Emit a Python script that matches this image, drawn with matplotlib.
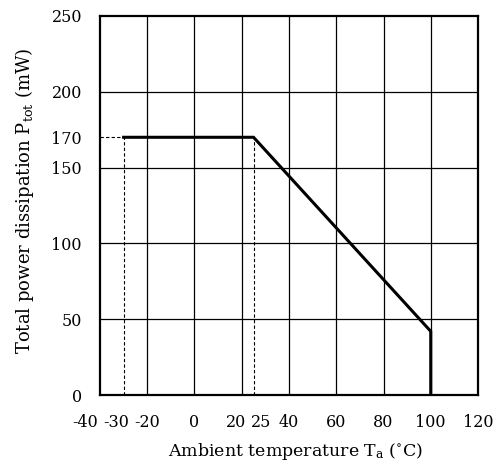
import matplotlib
matplotlib.use("Agg")
import matplotlib.pyplot as plt
import matplotlib.transforms as mtransforms

plt.rcParams['font.family'] = ['DejaVu Serif']
plt.rcParams['mathtext.fontset'] = 'custom'
plt.rcParams['mathtext.rm'] = 'DejaVu Serif'
plt.rcParams['mathtext.it'] = 'DejaVu Serif:italic'

# Data
temp = [-30, 25, 100, 100]
power = [170, 170, 42, 0]

x_ticks = [-40, -30, -20, 0, 20, 25, 40, 60, 80, 100, 120]
x_labels = ['-40', '-30', '-20', '0', '20', '25', '40', '60', '80', '100', '120']
y_ticks = [0, 50, 100, 150, 170, 200, 250]
y_labels = ['0', '50', '100', '150', '170', '200', '250']
x_grid = [-20, 0, 20, 40, 60, 80, 100]
y_grid = [50, 100, 150, 200]

# horizontal pixel nudges for crowded x tick labels (layout only)
x_nudge = {-40: -15, -30: -7, 20: -6, 25: 8}

fig = plt.figure(figsize=(5.02, 4.66), dpi=100)
ax = fig.add_axes([100/502, 1-395/466, 378/502, 379/466])
ax.set_xlim(-40, 120)
ax.set_ylim(0, 250)

for xg in x_grid:
    ax.axvline(xg, color='black', lw=0.9, zorder=1)
for yg in y_grid:
    ax.axhline(yg, color='black', lw=0.9, zorder=1)

# dashed guides
ax.plot([-40, -30], [170, 170], ls=(0, (3, 2)), color='black', lw=0.8, zorder=2)
ax.plot([-30, -30], [0, 170], ls=(0, (3, 2)), color='black', lw=0.8, zorder=2)
ax.plot([25, 25], [0, 170], ls=(0, (3, 2)), color='black', lw=0.8, zorder=2)

ax.plot(temp, power, color='black', lw=2.2, zorder=3, solid_joinstyle='miter')

ax.set_xticks([])
ax.set_yticks(y_ticks)
ax.set_yticklabels(y_labels)
ax.tick_params(length=0, labelsize=11.5, pad=13)

trans = ax.get_xaxis_transform()
for v, lab in zip(x_ticks, x_labels):
    off = mtransforms.ScaledTranslation(x_nudge.get(v, 0) / 100, 0, fig.dpi_scale_trans)
    ax.text(v, -0.072, lab, transform=trans + off, ha='center', va='center', fontsize=11.5)

for s in ax.spines.values():
    s.set_linewidth(1.6)

fig.text(295/502, 1-451/466, r'Ambient temperature T$_{\rm a}$ ($^{\circ}$C)', fontsize=12.5,
         ha='center', va='center')
fig.text(25/502, 1-201/466, r'Total power dissipation P$_{\rm tot}$ (mW)', fontsize=13,
         ha='center', va='center', rotation=90)

fig.savefig('out.png', dpi=100)
